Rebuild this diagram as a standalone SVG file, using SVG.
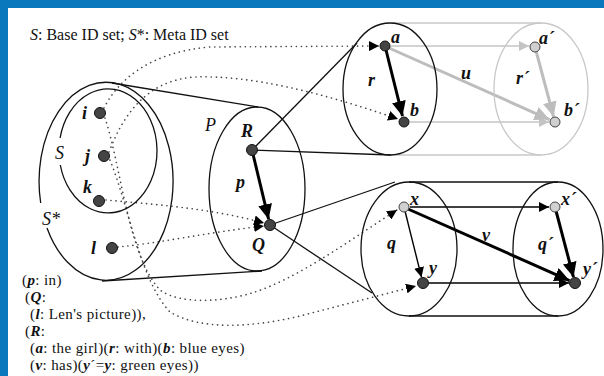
<svg xmlns="http://www.w3.org/2000/svg" width="604" height="376" viewBox="0 0 604 376">
<defs>
<style>
.frame{fill:#0a78bd}
.paper{fill:#ffffff}
.ell{fill:none;stroke:#111;stroke-width:1.3}
.gell{fill:none;stroke:#c8c8c8;stroke-width:1.3}
.ln{fill:none;stroke:#111;stroke-width:1.3}
.gln{fill:none;stroke:#c8c8c8;stroke-width:1.3}
.dot{fill:none;stroke:#444;stroke-width:1.6;stroke-dasharray:0.1 5;stroke-linecap:round}
.dk{fill:#444;stroke:#111;stroke-width:1}
.lt{fill:#d0d0d0;stroke:#444;stroke-width:1}
.thick{fill:none;stroke:#000;stroke-width:3}
.gthick{fill:none;stroke:#bdbdbd;stroke-width:3}
.thin{fill:none;stroke:#000;stroke-width:1.4}
.gthin{fill:none;stroke:#c4c4c4;stroke-width:1.4}
.lbl{font-family:'Liberation Serif','DejaVu Serif',serif;font-style:italic;font-weight:bold;font-size:18px;fill:#111}
.it{font-family:'Liberation Serif','DejaVu Serif',serif;font-style:italic;font-size:18px;fill:#111}
.txt{font-family:'Liberation Serif','DejaVu Serif',serif;font-size:16px;fill:#111}
.leg{font-family:'Liberation Serif','DejaVu Serif',serif;font-size:15px;letter-spacing:0.4px;fill:#111}
.b{font-style:italic;font-weight:bold}
.i{font-style:italic}
</style>
<marker id="ahB" markerUnits="userSpaceOnUse" markerWidth="16" markerHeight="14" refX="15" refY="7" orient="auto"><path d="M0,0 L15,7 L0,14 Z" fill="#000"/></marker>
<marker id="ahG" markerUnits="userSpaceOnUse" markerWidth="16" markerHeight="14" refX="15" refY="7" orient="auto"><path d="M0,0 L15,7 L0,14 Z" fill="#bdbdbd"/></marker>
<marker id="ahb" markerUnits="userSpaceOnUse" markerWidth="11" markerHeight="10" refX="10" refY="5" orient="auto"><path d="M0,0 L10,5 L0,10 Z" fill="#000"/></marker>
<marker id="ahg" markerUnits="userSpaceOnUse" markerWidth="11" markerHeight="10" refX="10" refY="5" orient="auto"><path d="M0,0 L10,5 L0,10 Z" fill="#c4c4c4"/></marker>
</defs>
<rect class="frame" x="0" y="0" width="604" height="376"/>
<rect class="paper" x="8" y="8" width="596" height="368"/>

<text class="txt" x="30" y="40"><tspan class="i">S</tspan>: Base ID set; <tspan class="i">S</tspan>*: Meta ID set</text>

<g id="connectors">
<path class="ln" d="M112,83 L258,107"/>
<path class="ln" d="M102,281 L262,271"/>
<path class="ln" d="M252,150 L357,43"/>
<path class="ln" d="M252,150 L391,155"/>
<path class="ln" d="M270,225 L395,182"/>
<path class="ln" d="M270,225 L372,293"/>
<path class="gln" d="M392,23 L541,23"/>
<path class="gln" d="M390,155 L541,155"/>
<path class="ln" d="M409,182 L558,182"/>
<path class="ln" d="M409,316 L558,316"/>
<path class="dot" d="M104,108 C118,80 150,52 210,47 L379,46" marker-end="url(#ahb)"/>
<path class="dot" d="M109,152 C125,110 150,80 195,77 C250,75 320,92 398,119" marker-end="url(#ahb)"/>
<path class="dot" d="M105,118 C122,170 128,255 160,290 C180,305 225,302 255,292 C300,277 350,240 397,210" marker-end="url(#ahb)"/>
<path class="dot" d="M110,160 C130,210 140,280 170,312 C200,330 250,328 300,316 L416,286" marker-end="url(#ahb)"/>
<path class="dot" d="M106,200 C150,204 210,208 264,223" marker-end="url(#ahb)"/>
<path class="dot" d="M118,247 C160,243 210,232 264,226" marker-end="url(#ahb)"/>
<path class="thick" d="M252,150 L268.6,219.2" marker-end="url(#ahB)"/>
<path class="thick" d="M385,46 L402.5,116.2" marker-end="url(#ahB)"/>
<path class="gthin" d="M391,46 L529,46" marker-end="url(#ahg)"/>
<path class="gthin" d="M410,122 L549,122" marker-end="url(#ahg)"/>
<path class="gthick" d="M389,48 L549.5,119.6" marker-end="url(#ahG)"/>
<path class="gthick" d="M535,47 L553.6,116.7" marker-end="url(#ahG)"/>
<path class="thin" d="M404,207 L421.5,277.2" marker-end="url(#ahb)"/>
<path class="thin" d="M410,207 L549,207" marker-end="url(#ahb)"/>
<path class="thin" d="M429,283 L569,283" stroke="#333" stroke-width="2" marker-end="url(#ahb)"/>
<path class="thick" d="M408,209 L569.5,280.6" marker-end="url(#ahB)"/>
<path class="thick" d="M555,207 L573.5,277.2" marker-end="url(#ahB)"/>
</g>

<g id="Sstar">
<path class="ell" d="M47,228 A67,99 0 1 0 40.7,203"/>
<text class="it" x="42" y="225">S*</text>
</g>
<g id="S">
<path class="ell" d="M60.3,165 A49,62 0 1 0 60.1,138"/>
<text class="it" x="55" y="159">S</text>
</g>
<g id="node-i"><circle class="dk" cx="100" cy="113" r="5.5"/><text class="lbl" x="82" y="119">i</text></g>
<g id="node-j"><circle class="dk" cx="104" cy="156" r="5.5"/><text class="lbl" x="85" y="162">j</text></g>
<g id="node-k"><circle class="dk" cx="99" cy="201" r="5.5"/><text class="lbl" x="83" y="193">k</text></g>
<g id="node-l"><circle class="dk" cx="112" cy="248" r="5.5"/><text class="lbl" x="91" y="254">l</text></g>

<g id="P">
<ellipse class="ell" cx="257" cy="189" rx="48" ry="82"/>
<text class="it" x="205" y="131">P</text>
<text class="lbl" x="236" y="188">p</text>
</g>
<g id="node-R"><circle class="dk" cx="252" cy="150" r="5.5"/><text class="lbl" x="241" y="137">R</text></g>
<g id="node-Q"><circle class="dk" cx="270" cy="225" r="5.5"/><text class="lbl" x="252" y="251">Q</text></g>

<g id="ab-set">
<ellipse class="ell" cx="390" cy="89" rx="47" ry="66"/>
<text class="lbl" x="368" y="86">r</text>
<text class="lbl" x="461" y="79">u</text>
</g>
<g id="ab-prime-set">
<ellipse class="gell" cx="541" cy="89" rx="47" ry="66"/>
<text class="lbl" x="516" y="84">r´</text>
</g>
<g id="node-a"><circle class="dk" cx="385" cy="46" r="5"/><text class="lbl" x="391" y="43">a</text></g>
<g id="node-b"><circle class="dk" cx="404" cy="122" r="5"/><text class="lbl" x="410" y="116">b</text></g>
<g id="node-a2"><circle class="lt" cx="535" cy="47" r="5"/><text class="lbl" x="539" y="44">a´</text></g>
<g id="node-b2"><circle class="lt" cx="555" cy="122" r="5"/><text class="lbl" x="564" y="116">b´</text></g>

<g id="xy-set">
<ellipse class="ell" cx="409" cy="249" rx="48" ry="67"/>
<text class="lbl" x="387" y="249">q</text>
<text class="lbl" x="482" y="241">v</text>
</g>
<g id="xy-prime-set">
<ellipse class="ell" cx="558" cy="249" rx="45" ry="67"/>
<text class="lbl" x="538" y="250">q´</text>
</g>
<g id="node-x"><circle class="lt" cx="404" cy="207" r="5"/><text class="lbl" x="410" y="205">x</text></g>
<g id="node-y"><circle class="dk" cx="423" cy="283" r="5.5"/><text class="lbl" x="429" y="274">y</text></g>
<g id="node-x2"><circle class="lt" cx="555" cy="207" r="5"/><text class="lbl" x="561" y="205">x´</text></g>
<g id="node-y2"><circle class="dk" cx="575" cy="283" r="5.5"/><text class="lbl" x="583" y="275">y´</text></g>

<g id="legend" class="leg">
<text x="22" y="285">(<tspan class="b">p</tspan>: in)</text>
<text x="25" y="302">(<tspan class="b">Q</tspan>:</text>
<text x="30" y="319">(<tspan class="b">l</tspan>: Len's picture)),</text>
<text x="25" y="336">(<tspan class="b">R</tspan>:</text>
<text x="30" y="353">(<tspan class="b">a</tspan>: the girl)(<tspan class="b">r</tspan>: with)(<tspan class="b">b</tspan>: blue eyes)</text>
<text x="30" y="370">(<tspan class="b">v</tspan>: has)(<tspan class="b">y</tspan>´=<tspan class="b">y</tspan>: green eyes))</text>
</g>
</svg>
